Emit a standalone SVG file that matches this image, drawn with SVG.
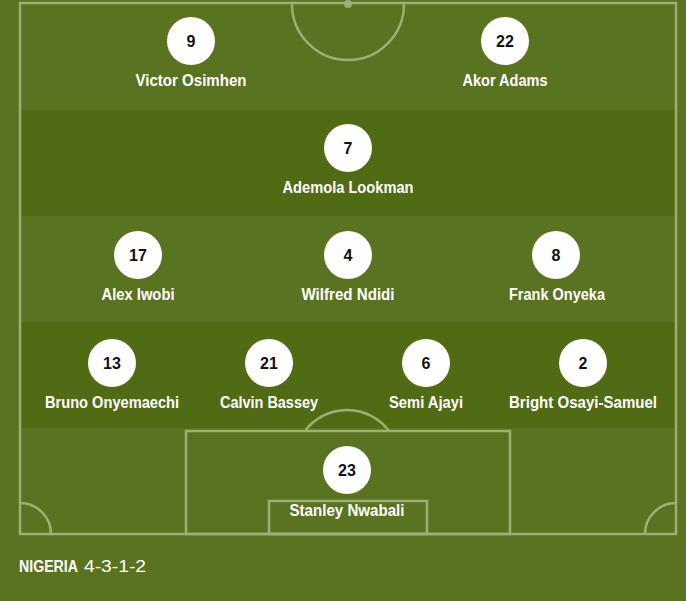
<svg xmlns="http://www.w3.org/2000/svg" width="686" height="601" viewBox="0 0 686 601">
<style>
.ln{fill:none;stroke:#9db074;stroke-width:2.5}
.dot{fill:#9db074}
.disc{fill:#ffffff}
.num{font-family:"Liberation Sans",Arial,sans-serif;font-weight:bold;font-size:16px;fill:#111111;text-anchor:middle}
.nm{font-family:"Liberation Sans",Arial,sans-serif;font-weight:bold;font-size:16px;fill:#ffffff;text-anchor:middle}
.team{font-family:"Liberation Sans",Arial,sans-serif;font-weight:bold;font-size:16px;fill:#ffffff}
.form{font-family:"Liberation Sans",Arial,sans-serif;font-size:16px;fill:#ffffff}
</style>
<rect x="0" y="0" width="686" height="601" fill="#5a7320"/>
<g id="pitch">
<rect x="21" y="110" width="654" height="106" fill="#506b14"/>
<rect x="21" y="322" width="654" height="106" fill="#506b14"/>
<rect class="ln" x="20" y="3" width="656" height="531"/>
<path class="ln" d="M292 4 A56 56 0 0 0 404 4"/>
<circle class="dot" cx="348" cy="4" r="4"/>
<path class="ln" d="M305 431 A52.5 52.5 0 0 1 389 431"/>
<rect class="ln" x="186" y="431" width="324" height="103"/>
<rect class="ln" x="269" y="501" width="158" height="33"/>
<path class="ln" d="M20 503 A31 31 0 0 1 51 534"/>
<path class="ln" d="M676 503 A31 31 0 0 0 645 534"/>
</g>
<g id="p9"><circle class="disc" cx="191" cy="41" r="24"/><text class="num" x="191" y="47">9</text><text class="nm" x="191" y="86" textLength="111" lengthAdjust="spacingAndGlyphs">Victor Osimhen</text></g>
<g id="p22"><circle class="disc" cx="505" cy="41" r="24"/><text class="num" x="505" y="47">22</text><text class="nm" x="505" y="86" textLength="85" lengthAdjust="spacingAndGlyphs">Akor Adams</text></g>
<g id="p7"><circle class="disc" cx="348" cy="148" r="24"/><text class="num" x="348" y="154">7</text><text class="nm" x="348" y="193" textLength="131" lengthAdjust="spacingAndGlyphs">Ademola Lookman</text></g>
<g id="p17"><circle class="disc" cx="138" cy="255" r="24"/><text class="num" x="138" y="261">17</text><text class="nm" x="138" y="300" textLength="73" lengthAdjust="spacingAndGlyphs">Alex Iwobi</text></g>
<g id="p4"><circle class="disc" cx="348" cy="255" r="24"/><text class="num" x="348" y="261">4</text><text class="nm" x="348" y="300" textLength="93" lengthAdjust="spacingAndGlyphs">Wilfred Ndidi</text></g>
<g id="p8"><circle class="disc" cx="556" cy="255" r="24"/><text class="num" x="556" y="261">8</text><text class="nm" x="557" y="300" textLength="96" lengthAdjust="spacingAndGlyphs">Frank Onyeka</text></g>
<g id="p13"><circle class="disc" cx="112" cy="363" r="24"/><text class="num" x="112" y="369">13</text><text class="nm" x="112" y="408" textLength="134" lengthAdjust="spacingAndGlyphs">Bruno Onyemaechi</text></g>
<g id="p21"><circle class="disc" cx="269" cy="363" r="24"/><text class="num" x="269" y="369">21</text><text class="nm" x="269" y="408" textLength="98" lengthAdjust="spacingAndGlyphs">Calvin Bassey</text></g>
<g id="p6"><circle class="disc" cx="426" cy="363" r="24"/><text class="num" x="426" y="369">6</text><text class="nm" x="426" y="408" textLength="74" lengthAdjust="spacingAndGlyphs">Semi Ajayi</text></g>
<g id="p2"><circle class="disc" cx="583" cy="363" r="24"/><text class="num" x="583" y="369">2</text><text class="nm" x="583" y="408" textLength="148" lengthAdjust="spacingAndGlyphs">Bright Osayi-Samuel</text></g>
<g id="p23"><circle class="disc" cx="347" cy="470" r="24"/><text class="num" x="347" y="476">23</text><text class="nm" x="347" y="516" textLength="115" lengthAdjust="spacingAndGlyphs">Stanley Nwabali</text></g>
<g id="caption"><text class="team" x="19" y="572" textLength="59" lengthAdjust="spacingAndGlyphs">NIGERIA</text><text class="form" x="84" y="572" textLength="62" lengthAdjust="spacingAndGlyphs">4-3-1-2</text></g>
<g id="connectors"></g>
</svg>
